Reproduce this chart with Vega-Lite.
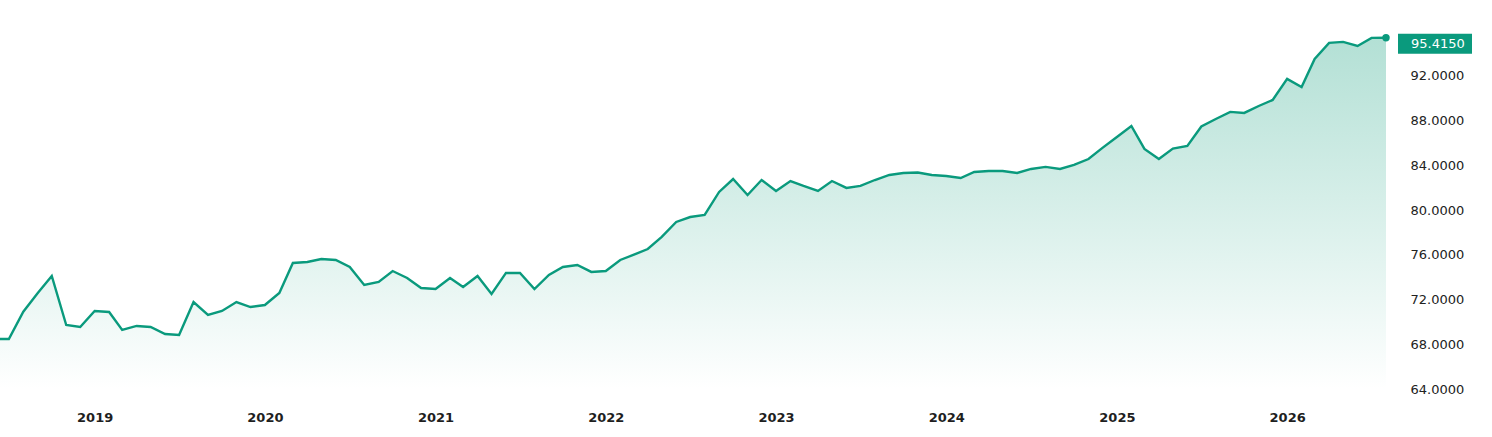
{
  "$schema": "https://vega.github.io/schema/vega-lite/v6.json",
  "width": 1386,
  "height": 369,
  "padding": {"left": 0, "top": 20, "right": 0, "bottom": 0},
  "background": "#ffffff",
  "config": {"view": {"stroke": null}, "font": "DejaVu Sans"},
  "data": {
    "values": [
      {"date": "2018-06-01", "value": 68.47},
      {"date": "2018-07-01", "value": 68.47},
      {"date": "2018-08-01", "value": 70.91},
      {"date": "2018-09-01", "value": 72.59},
      {"date": "2018-10-01", "value": 74.11},
      {"date": "2018-11-01", "value": 69.72},
      {"date": "2018-12-01", "value": 69.55},
      {"date": "2019-01-01", "value": 70.98},
      {"date": "2019-02-01", "value": 70.89},
      {"date": "2019-03-01", "value": 69.28},
      {"date": "2019-04-01", "value": 69.64},
      {"date": "2019-05-01", "value": 69.55},
      {"date": "2019-06-01", "value": 68.92},
      {"date": "2019-07-01", "value": 68.83},
      {"date": "2019-08-01", "value": 71.78},
      {"date": "2019-09-01", "value": 70.62},
      {"date": "2019-10-01", "value": 70.98},
      {"date": "2019-11-01", "value": 71.78},
      {"date": "2019-12-01", "value": 71.33},
      {"date": "2020-01-01", "value": 71.51},
      {"date": "2020-02-01", "value": 72.59},
      {"date": "2020-03-01", "value": 75.27},
      {"date": "2020-04-01", "value": 75.36},
      {"date": "2020-05-01", "value": 75.63},
      {"date": "2020-06-01", "value": 75.54},
      {"date": "2020-07-01", "value": 74.91},
      {"date": "2020-08-01", "value": 73.30},
      {"date": "2020-09-01", "value": 73.57},
      {"date": "2020-10-01", "value": 74.55},
      {"date": "2020-11-01", "value": 73.93},
      {"date": "2020-12-01", "value": 73.03},
      {"date": "2021-01-01", "value": 72.94},
      {"date": "2021-02-01", "value": 73.93},
      {"date": "2021-03-01", "value": 73.12},
      {"date": "2021-04-01", "value": 74.11},
      {"date": "2021-05-01", "value": 72.50},
      {"date": "2021-06-01", "value": 74.38},
      {"date": "2021-07-01", "value": 74.38},
      {"date": "2021-08-01", "value": 72.94},
      {"date": "2021-09-01", "value": 74.20},
      {"date": "2021-10-01", "value": 74.91},
      {"date": "2021-11-01", "value": 75.09},
      {"date": "2021-12-01", "value": 74.47},
      {"date": "2022-01-01", "value": 74.55},
      {"date": "2022-02-01", "value": 75.54},
      {"date": "2022-03-01", "value": 75.99},
      {"date": "2022-04-01", "value": 76.52},
      {"date": "2022-05-01", "value": 77.60},
      {"date": "2022-06-01", "value": 78.94},
      {"date": "2022-07-01", "value": 79.38},
      {"date": "2022-08-01", "value": 79.56},
      {"date": "2022-09-01", "value": 81.62},
      {"date": "2022-10-01", "value": 82.78},
      {"date": "2022-11-01", "value": 81.35},
      {"date": "2022-12-01", "value": 82.69},
      {"date": "2023-01-01", "value": 81.71},
      {"date": "2023-02-01", "value": 82.60},
      {"date": "2023-03-01", "value": 82.16},
      {"date": "2023-04-01", "value": 81.71},
      {"date": "2023-05-01", "value": 82.60},
      {"date": "2023-06-01", "value": 81.98},
      {"date": "2023-07-01", "value": 82.16},
      {"date": "2023-08-01", "value": 82.69},
      {"date": "2023-09-01", "value": 83.14},
      {"date": "2023-10-01", "value": 83.32},
      {"date": "2023-11-01", "value": 83.36},
      {"date": "2023-12-01", "value": 83.14},
      {"date": "2024-01-01", "value": 83.05},
      {"date": "2024-02-01", "value": 82.87},
      {"date": "2024-03-01", "value": 83.41},
      {"date": "2024-04-01", "value": 83.50},
      {"date": "2024-05-01", "value": 83.50},
      {"date": "2024-06-01", "value": 83.32},
      {"date": "2024-07-01", "value": 83.68},
      {"date": "2024-08-01", "value": 83.86},
      {"date": "2024-09-01", "value": 83.68},
      {"date": "2024-10-01", "value": 84.04},
      {"date": "2024-11-01", "value": 84.57},
      {"date": "2024-12-01", "value": 85.56},
      {"date": "2025-01-01", "value": 86.54},
      {"date": "2025-02-01", "value": 87.52},
      {"date": "2025-03-01", "value": 85.47},
      {"date": "2025-04-01", "value": 84.57},
      {"date": "2025-05-01", "value": 85.50},
      {"date": "2025-06-01", "value": 85.74},
      {"date": "2025-07-01", "value": 87.48},
      {"date": "2025-08-01", "value": 88.15},
      {"date": "2025-09-01", "value": 88.78},
      {"date": "2025-10-01", "value": 88.69},
      {"date": "2025-11-01", "value": 89.31},
      {"date": "2025-12-01", "value": 89.85},
      {"date": "2026-01-01", "value": 91.73},
      {"date": "2026-02-01", "value": 91.01},
      {"date": "2026-03-01", "value": 93.52},
      {"date": "2026-04-01", "value": 94.95},
      {"date": "2026-05-01", "value": 95.04},
      {"date": "2026-06-01", "value": 94.68},
      {"date": "2026-07-01", "value": 95.40},
      {"date": "2026-08-01", "value": 95.415}
    ],
    "format": {"parse": {"date": "date"}}
  },
  "encoding": {
    "x": {
      "field": "date",
      "type": "temporal",
      "title": null,
      "scale": {"domain": [{"year": 2018, "month": 6, "date": 12}, {"year": 2026, "month": 8, "date": 1}], "nice": false},
      "axis": {
        "values": [{"year": 2019}, {"year": 2020}, {"year": 2021}, {"year": 2022}, {"year": 2023}, {"year": 2024}, {"year": 2025}, {"year": 2026}],
        "format": "%Y",
        "labelFontWeight": "bold",
        "labelFontSize": 13,
        "labelColor": "#1f1f1f",
        "labelPadding": 22,
        "ticks": false,
        "domain": false,
        "grid": false
      }
    },
    "y": {
      "field": "value",
      "type": "quantitative",
      "title": null,
      "scale": {"domain": [64, 97], "nice": false, "zero": false},
      "axis": {
        "orient": "right",
        "values": [64, 68, 72, 76, 80, 84, 88, 92],
        "format": ".4f",
        "labelFontSize": 13,
        "labelColor": "#222222",
        "labelPadding": 24,
        "ticks": false,
        "domain": false,
        "grid": false
      }
    }
  },
  "layer": [
    {
      "mark": {
        "type": "area",
        "clip": true,
        "color": {
          "gradient": "linear",
          "x1": 0, "y1": 0, "x2": 0, "y2": 1,
          "stops": [
            {"offset": 0, "color": "#b3e0d5"},
            {"offset": 0.55, "color": "#dcf1ec"},
            {"offset": 1, "color": "#ffffff"}
          ]
        }
      },
      "encoding": {"y2": {"datum": 64}}
    },
    {
      "mark": {"type": "line", "clip": true, "color": "#0a9a7d", "strokeWidth": 2.4}
    },
    {
      "transform": [
        {"joinaggregate": [{"op": "max", "field": "date", "as": "tmax"}]},
        {"filter": "+datum.date == +datum.tmax"}
      ],
      "layer": [
        {"mark": {"type": "point", "filled": true, "size": 55, "opacity": 1, "color": "#0a9a7d"}},
        {"mark": {"type": "rect", "width": 74, "height": 20, "xOffset": 49, "yOffset": 6, "color": "#0a9a7d"}},
        {
          "mark": {"type": "text", "align": "left", "baseline": "middle", "dx": 25, "dy": 6, "fontSize": 13, "color": "#ffffff"},
          "encoding": {"text": {"field": "value", "type": "quantitative", "format": ".4f"}}
        }
      ]
    }
  ]
}
